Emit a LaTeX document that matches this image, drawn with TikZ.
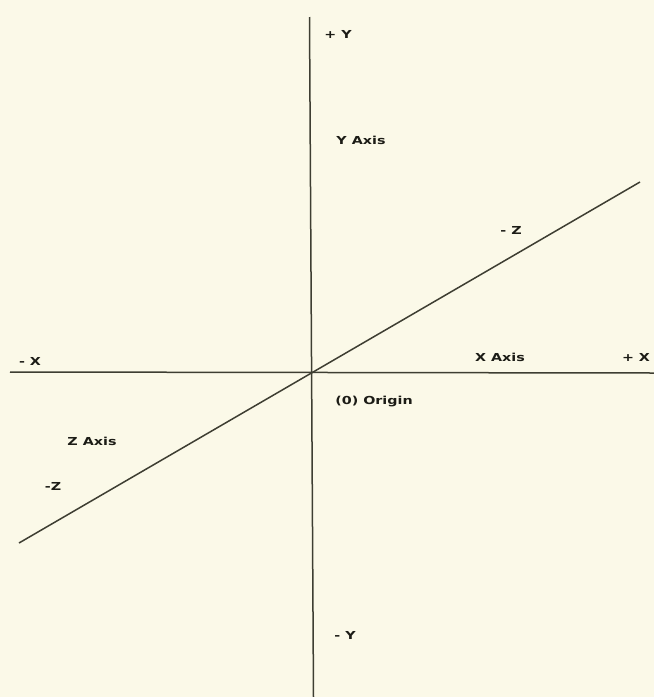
\documentclass[tikz,border=0pt]{standalone}
\usepackage{fontspec}
\setmainfont{DejaVu Sans}
\definecolor{paper}{RGB}{251,249,232}
\definecolor{axisline}{RGB}{62,62,50}
\definecolor{ink}{RGB}{28,28,22}
\begin{document}
\begin{tikzpicture}[x=1pt,y=-1pt,
  axis/.style={draw=axisline,line width=1.5pt},
  lbl/.style={text=ink,font=\fontsize{11}{13}\selectfont\bfseries,xscale=1.3,inner sep=0pt,text height=8pt,text depth=1pt}]
\fill[paper] (0,0) rectangle (654,697);
\useasboundingbox (0,0) rectangle (654,697);
\coordinate (ytop) at (309.5,17);
\coordinate (ybot) at (313.5,697);
\coordinate (xleft) at (10,372);
\coordinate (xright) at (654,373);
\coordinate (zlow) at (19,543);
\coordinate (zhigh) at (640,182);
\coordinate (origin) at (312,372.5);
\draw[axis] (ytop) -- (ybot);
\draw[axis] (xleft) -- (xright);
\draw[axis] (zlow) -- (zhigh);
\node[lbl] (py) at (338,35) {+ Y};
\node[lbl] (yaxis) at (361,141) {Y Axis};
\node[lbl] (mz1) at (511,231) {- Z};
\node[lbl] (mx) at (30,362) {- X};
\node[lbl] (xaxis) at (500,358) {X Axis};
\node[lbl] (px) at (636,358) {+ X};
\node[lbl] (orig) at (374,401) {(0) Origin};
\node[lbl] (zaxis) at (92,442) {Z Axis};
\node[lbl] (mz2) at (53,487) {-Z};
\node[lbl] (my) at (345,636) {- Y};
\end{tikzpicture}
\end{document}
